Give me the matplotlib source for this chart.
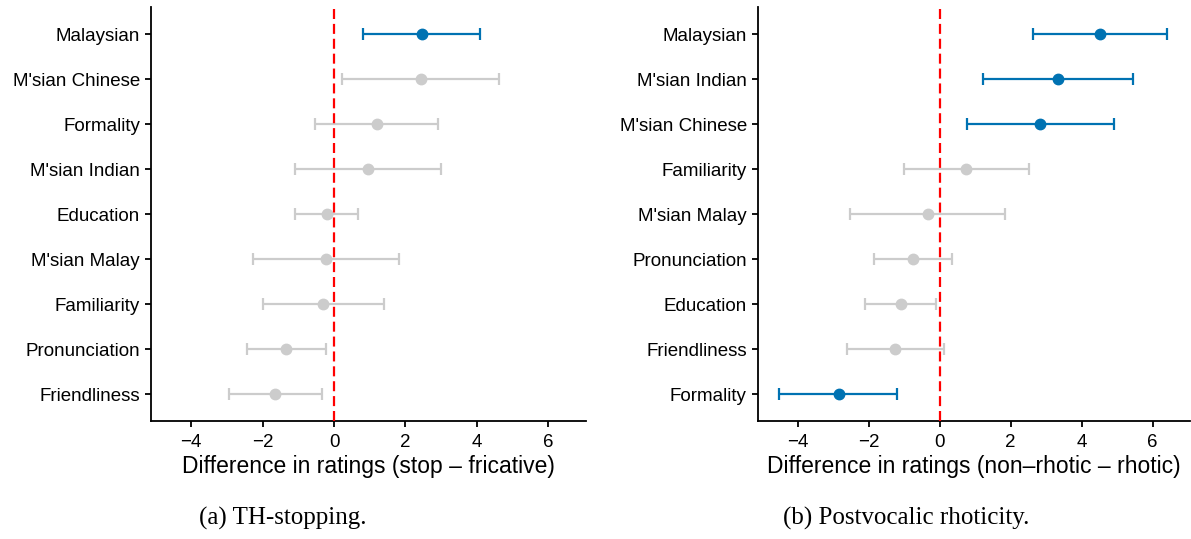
import numpy as np
import matplotlib.pyplot as plt

# panel (a) TH-stopping, rows listed top to bottom
cats_a = ["Malaysian", "M'sian Chinese", "Formality", "M'sian Indian", "Education",
          "M'sian Malay", "Familiarity", "Pronunciation", "Friendliness"]
est_a = [2.46, 2.44, 1.19, 0.96, -0.20, -0.22, -0.31, -1.33, -1.64]
lo_a = [0.81, 0.23, -0.52, -1.08, -1.10, -2.27, -2.00, -2.43, -2.93]
hi_a = [4.09, 4.61, 2.90, 3.00, 0.68, 1.83, 1.41, -0.23, -0.33]
sig_a = [True, False, False, False, False, False, False, False, False]

# panel (b) postvocalic rhoticity
cats_b = ["Malaysian", "M'sian Indian", "M'sian Chinese", "Familiarity", "M'sian Malay",
          "Pronunciation", "Education", "Friendliness", "Formality"]
est_b = [4.52, 3.33, 2.84, 0.75, -0.34, -0.74, -1.10, -1.25, -2.85]
lo_b = [2.62, 1.23, 0.76, -1.01, -2.54, -1.84, -2.10, -2.62, -4.52]
hi_b = [6.41, 5.45, 4.92, 2.51, 1.85, 0.36, -0.11, 0.13, -1.21]
sig_b = [True, True, True, False, False, False, False, False, True]

xlabels = ["Difference in ratings (stop \u2013 fricative)",
           "Difference in ratings (non\u2013rhotic \u2013 rhotic)"]
captions = ["(a) TH-stopping.", "(b) Postvocalic rhoticity."]

BLUE = "#0072B2"
GREY = "#CCCCCC"

plt.rcParams['font.family'] = ['Liberation Sans', 'DejaVu Sans']

fig = plt.figure(figsize=(11.91, 5.39), dpi=100)
ax_a = fig.add_axes([0.1268, 0.2189, 0.3652, 0.768])
ax_b = fig.add_axes([0.6364, 0.2189, 0.3627, 0.768])


def draw_panel(ax, cats, est, lo, hi, sig, xlabel):
    n = len(cats)
    ys = np.arange(n, 0, -1)
    for y, e, l, h, s in zip(ys, est, lo, hi, sig):
        col = BLUE if s else GREY
        ax.errorbar(e, y, xerr=[[e - l], [h - e]], fmt='o', color=col, ecolor=col,
                    markersize=7.5, elinewidth=1.6, capsize=4, capthick=1.6, zorder=2)
    ax.axvline(0, color='red', ls=(0, (4.5, 2.2)), lw=1.6, zorder=3)
    ax.set_yticks(ys)
    ax.set_yticklabels(cats)
    ax.set_ylim(0.4, n + 0.6)
    ax.set_xlim(-5.12, 7.05)
    ax.set_xticks([-4, -2, 0, 2, 4, 6])
    ax.set_xticklabels(['\u22124', '\u22122', '0', '2', '4', '6'])
    for side in ['top', 'right']:
        ax.spines[side].set_visible(False)
    for side in ['left', 'bottom']:
        ax.spines[side].set_linewidth(1.3)
    ax.tick_params(labelsize=13.5, length=4.5, width=1.3, colors='black')
    ax.tick_params(axis='x', pad=4.5)
    ax.set_xlabel(xlabel, fontsize=16.5, labelpad=3)


draw_panel(ax_a, cats_a, est_a, lo_a, hi_a, sig_a, xlabels[0])
draw_panel(ax_b, cats_b, est_b, lo_b, hi_b, sig_b, xlabels[1])

fig.text(283 / 1191, 1 - 518 / 539, captions[0], ha='center', va='center',
         fontsize=18, family='Liberation Serif')
fig.text(906 / 1191, 1 - 518 / 539, captions[1], ha='center', va='center',
         fontsize=18, family='Liberation Serif')

fig.savefig('out.png', dpi=100)
